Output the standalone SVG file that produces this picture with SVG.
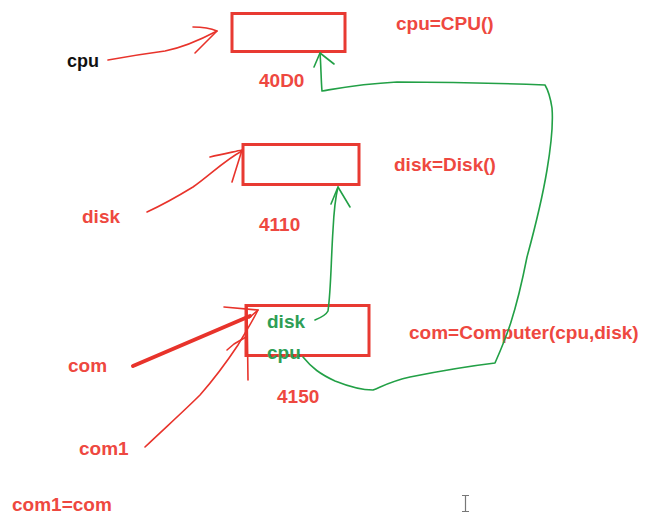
<svg xmlns="http://www.w3.org/2000/svg" width="656" height="525" viewBox="0 0 656 525">
<style>
.box{fill:none;stroke:#e83a32;stroke-width:3}
.t{font-family:"Liberation Sans",Arial,sans-serif;font-weight:bold;font-size:19px}
.red{fill:#ee4840}
.grn{fill:#2e9e55}
.blk{fill:#111}
.rl{fill:none;stroke:#e8332b;stroke-width:1.6;stroke-linecap:round;stroke-linejoin:round}
.gl{fill:none;stroke:#22a046;stroke-width:1.6;stroke-linecap:round;stroke-linejoin:round}
</style>
<rect width="656" height="525" fill="#fff"/>
<g id="node-cpu-obj">
<rect class="box" x="232" y="13.5" width="113" height="38"/>
<text class="t red" x="259" y="87">40D0</text>
</g>
<g id="node-disk-obj">
<rect class="box" x="243" y="144.5" width="116" height="40"/>
<text class="t red" x="259" y="231">4110</text>
</g>
<g id="node-com-obj">
<rect class="box" x="246" y="305.5" width="123" height="50"/>
<text class="t grn" x="267" y="328">disk</text>
<text class="t grn" x="267" y="359">cpu</text>
<text class="t red" x="277" y="403">4150</text>
</g>
<g id="labels">
<text class="t blk" x="67" y="67" style="font-size:18px">cpu</text>
<text class="t red" x="396" y="30">cpu=CPU()</text>
<text class="t red" x="82" y="223">disk</text>
<text class="t red" x="394" y="171">disk=Disk()</text>
<text class="t red" x="68" y="372">com</text>
<text class="t red" x="409" y="339">com=Computer(cpu,disk)</text>
<text class="t red" x="79" y="455">com1</text>
<text class="t red" x="12" y="511">com1=com</text>
</g>
<g id="connectors">
<path class="rl" d="M108,60 C130,56 150,53 165,51 C185,47 200,40 217,31"/>
<path class="rl" d="M193,27 C203,27 210,28 217,31 L195,53"/>
<path class="rl" d="M147,212 C160,206 175,198 193,187 C210,175 225,160 242,151"/>
<path class="rl" d="M210,157 C222,154 233,152 242,150 L232,182"/>
<path d="M133,366 L250,316" fill="none" stroke="#e8332b" stroke-width="4" stroke-linecap="round"/>
<path class="rl" d="M224,307 L258,310 L249,318"/>
<path class="rl" d="M247,306 L248,380"/>
<path class="rl" d="M145,447 C165,428 185,410 200,395 C215,378 228,360 238,345 C245,333 252,322 258,310"/>
<path class="rl" d="M227,350 L234,344 L246,337"/>
<path class="gl" d="M315,320 C320,318 326,315 328,311 C331,290 331,260 333,230 C334,210 336,195 338,187"/>
<path class="gl" d="M331,204 L338,187 L350,207"/>
<path class="gl" d="M303,357 C312,368 320,374 335,381 C350,387 362,390 373,390 C385,385 392,381 410,377 C440,371 470,366 495,363 C505,340 515,318 527,257 C533,235 542,200 547,170 C552,140 553,120 552,108 C550,95 548,90 545,85 C520,84 460,82 397,82 C360,84 340,88 322,91 C321,80 321,65 320,53"/>
<path class="gl" d="M314,67 L320,53 L334,64"/>
</g>
<g id="cursor" stroke="#777" stroke-width="1.2" fill="none">
<path d="M462,495.5 H469 M465.5,495.5 V511.5 M462,511.5 H469"/>
</g>
</svg>
